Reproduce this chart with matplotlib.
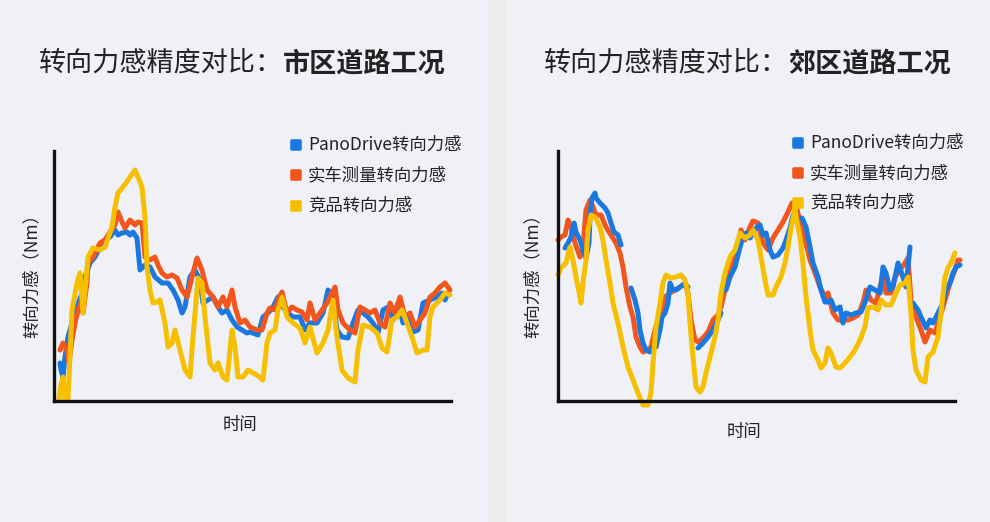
import numpy as np
import matplotlib
matplotlib.use('Agg')
import matplotlib.pyplot as plt
from matplotlib.markers import MarkerStyle

plt.rcParams['font.family'] = ['Noto Sans CJK SC', 'DejaVu Sans']

# ---- data (time index, force in arbitrary units) ----
series_names = ['PanoDrive转向力感', '实车测量转向力感', '竞品转向力感']
colors = ['#1a78e0', '#f2561d', '#f6bf00']

# city road
city_blue_t = [6, 7, 9, 11, 14, 18, 23, 28, 31, 36, 41, 46, 51, 56, 61, 64, 68, 73, 76, 79,
               83, 86, 91, 96, 101, 108, 114, 119, 124, 128, 131, 136, 141, 146, 149, 154, 159, 164, 168, 173,
               178, 183, 188, 193, 196, 204, 209, 214, 219, 224, 229, 234, 239, 246, 251, 256, 263, 269, 274, 279,
               283, 288, 294, 299, 304, 309, 314, 319, 324, 329, 334, 339, 344, 349, 354, 359, 364, 369, 376, 383,
               388, 391, 394]
city_blue = [38, 31, 24, 44, 64, 78, 94, 108, 124, 138, 144, 154, 161, 164, 171, 166, 168, 169, 166, 169,
             163, 131, 136, 134, 124, 118, 118, 111, 101, 88, 94, 124, 131, 121, 98, 101, 104, 94, 88, 91,
             81, 74, 71, 68, 69, 66, 84, 88, 94, 104, 94, 88, 84, 84, 71, 78, 78, 88, 111, 104,
             71, 64, 63, 78, 91, 88, 84, 78, 68, 91, 94, 81, 98, 78, 84, 69, 71, 98, 101, 104,
             108, 101, 108]
city_red_t = [6, 9, 13, 15, 18, 21, 24, 28, 29, 33, 34, 39, 46, 51, 56, 61, 64, 68, 71, 76,
              81, 84, 88, 91, 96, 101, 104, 108, 113, 118, 123, 128, 133, 138, 143, 148, 153, 159, 164, 169,
              173, 178, 181, 186, 191, 196, 203, 208, 213, 216, 221, 224, 228, 233, 238, 243, 248, 253, 256, 261,
              266, 273, 278, 281, 284, 289, 296, 301, 306, 311, 316, 321, 326, 331, 336, 341, 346, 351, 356, 361,
              366, 371, 376, 381, 386, 391, 396]
city_red = [51, 58, 51, 38, 61, 78, 91, 101, 88, 118, 138, 144, 158, 161, 169, 176, 189, 179, 173, 181,
            176, 179, 178, 144, 141, 144, 136, 128, 124, 126, 123, 111, 104, 124, 143, 131, 111, 104, 94, 104,
            94, 111, 94, 78, 81, 74, 71, 71, 88, 93, 91, 101, 109, 88, 94, 91, 89, 81, 98, 81,
            88, 98, 108, 114, 91, 78, 71, 68, 94, 91, 88, 91, 78, 74, 98, 88, 104, 84, 88, 74,
            81, 88, 104, 108, 114, 118, 111]
city_yellow_t = [5, 7, 9, 11, 14, 18, 23, 26, 29, 34, 39, 46, 51, 58, 61, 64, 69, 74, 81, 84,
                 88, 91, 93, 96, 99, 103, 106, 111, 114, 118, 121, 126, 131, 136, 139, 143, 144, 148, 151, 156,
                 161, 164, 169, 173, 178, 181, 184, 189, 194, 199, 203, 209, 213, 216, 221, 224, 228, 233, 239, 246,
                 251, 256, 263, 269, 274, 279, 283, 288, 294, 301, 304, 309, 316, 323, 328, 333, 338, 343, 348, 353,
                 358, 363, 369, 373, 376, 379, 386, 391, 396]
city_yellow = [1, 16, 24, 1, 1, 91, 118, 128, 88, 144, 153, 151, 154, 174, 194, 208, 214, 221, 231, 224,
               214, 184, 134, 111, 98, 99, 101, 78, 54, 58, 71, 51, 31, 24, 64, 111, 123, 118, 84, 38,
               31, 38, 24, 21, 71, 54, 24, 24, 31, 28, 26, 21, 58, 68, 71, 91, 104, 84, 78, 73,
               58, 74, 48, 58, 71, 101, 64, 31, 23, 19, 51, 76, 74, 68, 53, 49, 81, 84, 91, 78,
               64, 48, 51, 51, 84, 94, 101, 108, 106]

# suburban road (None = gap in the trace)
sub_blue_t = [7, 10, 13, 16, 18, 22, 25, 28, 31, 32, 34, 37, 38, 42, 47, 50, 53, 56, 60, 63, None,
              73, 77, 80, 82, 85, 88, 92, 95, 98, 102, 104, 107, 110, 112, 115, 118, 122, 125, 128, 130, None,
              140, 145, 150, 155, 160, 163, None,
              168, 172, 177, 182, 185, 188, 192, 195, 198, 202, 205, 208, 212, 215, 220, 225, 228, 232, 235, 238, None,
              244, 248, 252, 255, 260, 263, 267, 270, 273, 277, 282, 285, 288, 293, 298, 303, 308, 312, 317, 322,
              325, 328, 332, 335, 340, 345, 348, 352, None,
              355, 360, 363, 368, 372, 375, 380, 385, 388, 392, 395, 398, 402]
sub_blue = [153, 158, 164, 178, 169, 161, 151, 143, 158, 184, 203, 208, 203, 198, 193, 188, 178, 169, 166, 156, None,
            113, 101, 88, 71, 58, 51, 49, 54, 54, 71, 84, 88, 98, 118, 111, 111, 114, 116, 116, 114, None,
            53, 58, 64, 71, 81, 88, None,
            111, 124, 134, 154, 164, 168, 163, 168, 173, 176, 166, 168, 151, 144, 146, 153, 161, 173, 186, 189, None,
            183, 174, 154, 138, 124, 111, 99, 99, 101, 91, 94, 78, 88, 86, 88, 89, 101, 114, 111, 108,
            134, 128, 111, 114, 138, 124, 114, 154, None,
            98, 91, 84, 73, 81, 78, 88, 98, 111, 118, 128, 134, 136]
sub_red_t = [0, 3, 7, 10, 13, 17, 22, 25, 28, 32, 35, 38, 43, 48, 53, 58, 62, 65, 68, 72,
             75, 78, 82, 85, 90, 93, 97, 100, 103, 107, 112, 117, 122, 127, 130, 133, 137, 140, 145, 150,
             155, 160, 163, 167, 170, 175, 180, 183, 187, 192, 195, 200, 205, 210, 215, 220, 225, 230, 234, 238,
             242, 247, 252, 257, 262, 267, 270, 275, 280, 285, 290, 295, 300, 305, 308, 313, 318, 322, 325, 328,
             333, 337, 342, 347, 350, 353, 358, 363, 367, 372, 377, 382, 387, 392, 397, 400, 402]
sub_red = [161, 164, 166, 181, 174, 158, 144, 154, 191, 201, 194, 186, 186, 174, 166, 158, 148, 134, 114, 94,
           84, 64, 54, 49, 51, 54, 71, 81, 91, 104, 108, 111, 114, 118, 108, 81, 61, 59, 63, 69,
           81, 86, 94, 111, 128, 141, 154, 171, 161, 174, 180, 178, 158, 151, 163, 171, 179, 189, 198, 196,
           179, 161, 141, 128, 114, 104, 108, 88, 81, 81, 81, 83, 86, 98, 111, 101, 98, 114, 124, 108,
           108, 124, 131, 138, 143, 101, 84, 71, 59, 71, 68, 84, 101, 118, 131, 141, 141]
sub_yellow_t = [0, 3, 8, 12, 15, 18, 22, 23, 25, 28, 30, 33, 37, 42, 45, 48, 52, 55, 60, 65,
                70, 75, 80, 85, 90, 93, 95, 98, 102, 105, 108, 113, 118, 123, 127, 130, 132, 135, 138, 142,
                145, 148, 153, 157, 160, 163, 167, 172, 177, 182, 187, 192, 195, 200, 203, 207, 210, 215, 218, 223,
                227, 230, 233, 237, 238, 242, 245, 248, 252, 255, 260, 263, 267, 270, 273, 278, 282, 287, 292, 297,
                302, 307, 310, 315, 320, 323, 328, 333, 338, 342, 347, 350, 353, 355, 358, 363, 367, 370, 375, 380,
                383, 387, 390, 393, 397]
sub_yellow = [126, 133, 138, 154, 141, 124, 104, 98, 118, 141, 171, 186, 184, 174, 161, 141, 118, 98, 78, 54,
              34, 21, 8, -4, -4, 8, 38, 74, 98, 118, 126, 123, 124, 126, 121, 108, 78, 44, 14, 9,
              14, 28, 48, 64, 81, 108, 128, 144, 151, 168, 163, 166, 171, 161, 144, 121, 106, 106, 114, 124,
              138, 154, 173, 193, 184, 164, 138, 104, 71, 51, 41, 33, 38, 53, 48, 34, 33, 38, 44, 51,
              61, 74, 93, 94, 91, 101, 96, 96, 108, 116, 118, 124, 88, 51, 31, 21, 19, 44, 49, 64,
              88, 124, 133, 138, 148]

panels = [
    dict(title_reg='转向力感精度对比：', title_bold='市区道路工况', split=283,
         ax_left=54, xlabel_y=425, ylabel_x=32,
         series=[(city_blue_t, city_blue), (city_red_t, city_red), (city_yellow_t, city_yellow)],
         z=[2, 3, 4], leg_x=296, leg_y=[145, 175, 206]),
    dict(title_reg='转向力感精度对比：', title_bold='郊区道路工况', split=788,
         ax_left=558, xlabel_y=432, ylabel_x=533,
         series=[(sub_blue_t, sub_blue), (sub_red_t, sub_red), (sub_yellow_t, sub_yellow)],
         z=[3, 2, 4], leg_x=798, leg_y=[143, 173, 203]),
]

W, H = 990, 522
fig = plt.figure(figsize=(W / 100, H / 100), dpi=100)
fig.patch.set_facecolor('#ececec')
bg = '#f0f1f6'
fig.add_artist(plt.Rectangle((0, 0), 487 / W, 1, transform=fig.transFigure, color=bg, zorder=0))
fig.add_artist(plt.Rectangle((506 / W, 0), 1 - 506 / W, 1, transform=fig.transFigure, color=bg, zorder=0))

text_color = '#222222'
for p in panels:
    ax = fig.add_axes([p['ax_left'] / W, (H - 401) / H, 397 / W, 250 / H])
    ax.set_facecolor('none')
    for (t, v), c, z in zip(p['series'], colors, p['z']):
        t = np.array(t, dtype=float)
        v = np.array(v, dtype=float)
        ax.plot(t, v, color=c, lw=3.6, solid_capstyle='round', solid_joinstyle='round',
                zorder=z, clip_on=False)
    ax.set_xlim(0, 397)
    ax.set_ylim(0, 250)
    ax.set_xticks([])
    ax.set_yticks([])
    for s in ['top', 'right']:
        ax.spines[s].set_visible(False)
    for s in ['left', 'bottom']:
        ax.spines[s].set_linewidth(2.4)
        ax.spines[s].set_color('#111111')
        ax.spines[s].set_zorder(5)

    # legend
    for name, c, ly in zip(series_names, colors, p['leg_y']):
        fy = (H - ly) / H
        fig.add_artist(plt.Line2D([p['leg_x'] / W], [fy], marker=MarkerStyle('s', joinstyle='round'),
                                  ms=6, mew=2.6, color=c, mec=c, ls='none', zorder=6))
        fig.text((p['leg_x'] + 12) / W, fy, name, fontsize=12.5, color=text_color,
                 ha='left', va='center', zorder=6)

    # titles and labels
    fy = (H - 63) / H
    fig.text(p['split'] / W, fy, p['title_reg'], fontsize=19.5, color=text_color, ha='right', va='center')
    fig.text(p['split'] / W, fy, p['title_bold'], fontsize=19.5, color=text_color, ha='left', va='center',
             fontweight='bold')
    fig.text(p['ylabel_x'] / W, (H - 272) / H, '转向力感（Nm）', fontsize=12.5, color=text_color,
             rotation=90, ha='center', va='center')
    fig.text((p['ax_left'] + 186) / W, (H - p['xlabel_y']) / H, '时间', fontsize=12.5, color=text_color,
             ha='center', va='center')

fig.savefig('out.png', dpi=100, facecolor=fig.get_facecolor())
